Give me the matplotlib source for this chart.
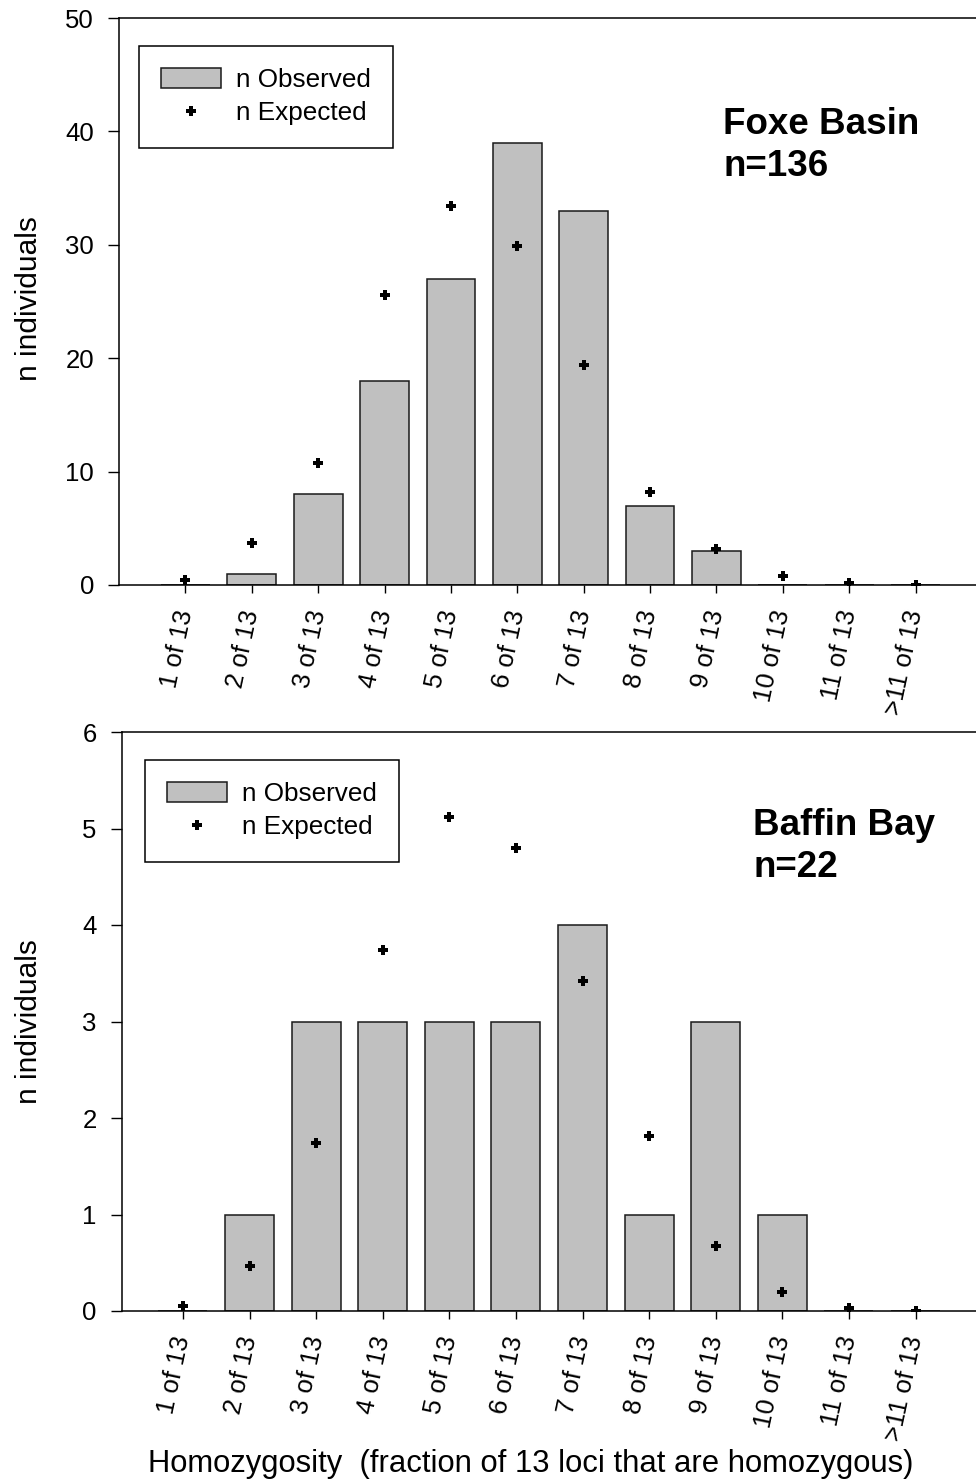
import numpy as np
import matplotlib
matplotlib.use('Agg')
import matplotlib.pyplot as plt

plt.rcParams['font.family'] = ['Liberation Sans', 'DejaVu Sans']

categories = ['1 of 13', '2 of 13', '3 of 13', '4 of 13', '5 of 13', '6 of 13',
              '7 of 13', '8 of 13', '9 of 13', '10 of 13', '11 of 13', '>11 of 13']

foxe_observed = [0, 1, 8, 18, 27, 39, 33, 7, 3, 0, 0, 0]
foxe_expected = [0.4, 3.7, 10.8, 25.6, 33.4, 29.9, 19.4, 8.2, 3.2, 0.8, 0.15, 0.02]

baffin_observed = [0, 1, 3, 3, 3, 3, 4, 1, 3, 1, 0, 0]
baffin_expected = [0.05, 0.47, 1.74, 3.74, 5.12, 4.80, 3.42, 1.81, 0.67, 0.20, 0.03, 0.0]

W, H = 976, 1481
fig = plt.figure(figsize=(W / 100, H / 100), dpi=100)


def px_axes(left, top, right, bottom):
    return fig.add_axes([left / W, 1 - bottom / H, (right - left) / W, (bottom - top) / H])


def draw_panel(ax, observed, expected, ymax, yticks, x0, legend_box, title, title_xy):
    x = np.arange(1, len(categories) + 1)
    bars = ax.bar(x, observed, width=0.735, color='#c0c0c0', edgecolor='#1a1a1a',
                  linewidth=1.1, label='n Observed', zorder=2)
    pts, = ax.plot(x, expected, linestyle='none', marker='P', markersize=7, color='black',
                   markeredgewidth=0, label='n Expected', zorder=3)
    ax.set_xlim(x0, x0 + 13)
    ax.set_ylim(0, ymax)
    ax.set_yticks(yticks)
    ax.set_xticks(x)
    ax.set_xticklabels(categories, rotation=78, rotation_mode='anchor',
                       ha='right', va='center', fontsize=18.5)
    ax.tick_params(axis='y', direction='out', length=8, width=1, labelsize=18.5, pad=10)
    ax.tick_params(axis='x', direction='out', length=6, width=1, pad=12)
    ax.spines['right'].set_visible(False)
    for s in ['left', 'bottom', 'top']:
        ax.spines[s].set_linewidth(1.1)
    leg = ax.legend([bars, pts], ['n Observed', 'n Expected'], loc='upper left',
                    bbox_to_anchor=(legend_box[0] / W, 1 - legend_box[1] / H),
                    bbox_transform=fig.transFigure, borderaxespad=0,
                    fancybox=False, edgecolor='black', fontsize=18.8,
                    handlelength=2.3, handleheight=0.77, handletextpad=0.55,
                    labelspacing=0.35, borderpad=0.85, framealpha=1)
    leg.get_frame().set_linewidth(1.1)
    fig.text(title_xy[0] / W, 1 - title_xy[1] / H, title, fontsize=26.5,
             fontweight='bold', ha='left', va='top', linespacing=1.27)


ax1 = px_axes(119, 18, 982, 585)
draw_panel(ax1, foxe_observed, foxe_expected, 50, np.arange(0, 51, 10), 0,
           (139, 46), 'Foxe Basin\nn=136', (723, 107))

ax2 = px_axes(121.7, 732, 987.5, 1311)
draw_panel(ax2, baffin_observed, baffin_expected, 6, np.arange(0, 7, 1), 0.08,
           (145, 760), 'Baffin Bay\nn=22', (753, 808))

fig.text(29 / W, 1 - 299 / H, 'n individuals', rotation=90, fontsize=21.5,
         ha='center', va='center')
fig.text(29 / W, 1 - 1022 / H, 'n individuals', rotation=90, fontsize=21.5,
         ha='center', va='center')
fig.text(531 / W, 1 - 1472 / H, 'Homozygosity  (fraction of 13 loci that are homozygous)',
         fontsize=22.3, ha='center', va='baseline')

fig.savefig('out.png', dpi=100)
